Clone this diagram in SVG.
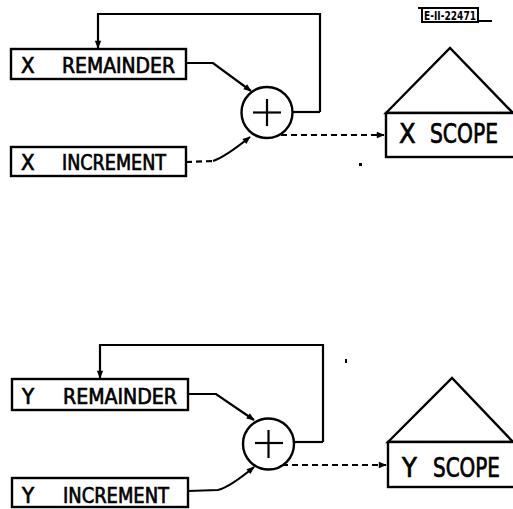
<svg xmlns="http://www.w3.org/2000/svg" width="513" height="509" viewBox="0 0 513 509">
<defs>
<marker id="ah" viewBox="0 0 10 10" refX="9" refY="5" markerWidth="10" markerHeight="8" markerUnits="userSpaceOnUse" orient="auto">
<path d="M0,1 L10,5 L0,9 Z" fill="#000"/>
</marker>
</defs>
<style>
.box{fill:#fff;stroke:#000;stroke-width:2.4}
.ln{fill:none;stroke:#000;stroke-width:2.2}
.dash{fill:none;stroke:#000;stroke-width:2.2;stroke-dasharray:6 4}
.t{font-family:"DejaVu Sans Condensed","Liberation Sans",sans-serif;font-stretch:condensed;fill:#000;stroke:#000;stroke-width:0.7}
.m{font-size:22px}
.s{font-size:27px}
</style>
<rect width="513" height="509" fill="#fff"/>

<g id="tag">
<rect x="422" y="8" width="56" height="14" fill="none" stroke="#000" stroke-width="2"/>
<line x1="418" y1="8" x2="424" y2="8" stroke="#000" stroke-width="2"/>
<line x1="478" y1="21" x2="492" y2="21" stroke="#000" stroke-width="2"/>
<text x="424" y="20" font-family="DejaVu Sans Condensed, sans-serif" font-size="12" font-weight="bold" textLength="52" lengthAdjust="spacingAndGlyphs">E-II-22471</text>
</g>

<g id="connectors">
<!-- X section -->
<polyline class="ln" points="320,112 320,14 98,14 98,48" marker-end="url(#ah)"/>
<line class="ln" x1="320" y1="112" x2="293" y2="112"/>
<polyline class="ln" points="186,63 213,63 251,91" marker-end="url(#ah)"/>
<polyline class="dash" points="186,162 213,161"/>
<path class="ln" d="M213,161 Q225,157 250,137" marker-end="url(#ah)"/>
<line class="dash" x1="281" y1="135" x2="384" y2="135" marker-end="url(#ah)"/>
<!-- Y section -->
<polyline class="ln" points="323,442 323,345 100,345 100,378" marker-end="url(#ah)"/>
<line class="ln" x1="323" y1="442" x2="294" y2="442"/>
<polyline class="ln" points="188,394 216,394 254,420" marker-end="url(#ah)"/>
<path class="ln" d="M188,491 L218,490 Q230,487 254,467" marker-end="url(#ah)"/>
<line class="dash" x1="282" y1="465" x2="386" y2="465" marker-end="url(#ah)"/>
</g>

<g id="x-remainder">
<rect class="box" x="11" y="49" width="175" height="30"/>
<text class="t m" x="21" y="73">X</text>
<text class="t m" x="62" y="73" textLength="113" lengthAdjust="spacingAndGlyphs">REMAINDER</text>
</g>
<g id="x-increment">
<rect class="box" x="11" y="147" width="175" height="29"/>
<text class="t m" x="21" y="170">X</text>
<text class="t m" x="62" y="170" textLength="104" lengthAdjust="spacingAndGlyphs">INCREMENT</text>
</g>
<g id="x-adder">
<circle cx="267" cy="112.5" r="25.5" fill="#fff" stroke="#000" stroke-width="2.4"/>
<line class="ln" x1="253" y1="112.5" x2="281" y2="112.5"/>
<line class="ln" x1="267" y1="99" x2="267" y2="126"/>
</g>
<g id="x-scope">
<polygon points="386,113 450,48 513,113" fill="#fff" stroke="#000" stroke-width="2.4"/>
<rect class="box" x="386" y="113" width="130" height="44"/>
<text class="t s" x="399" y="143">X</text>
<text class="t s" x="430" y="143" textLength="68" lengthAdjust="spacingAndGlyphs">SCOPE</text>
</g>

<g id="y-remainder">
<rect class="box" x="12" y="379" width="176" height="31"/>
<text class="t m" x="22" y="404">Y</text>
<text class="t m" x="63" y="404" textLength="114" lengthAdjust="spacingAndGlyphs">REMAINDER</text>
</g>
<g id="y-increment">
<rect class="box" x="12" y="478" width="176" height="29"/>
<text class="t m" x="22" y="503">Y</text>
<text class="t m" x="63" y="503" textLength="106" lengthAdjust="spacingAndGlyphs">INCREMENT</text>
</g>
<g id="y-adder">
<circle cx="268.5" cy="444" r="25.5" fill="#fff" stroke="#000" stroke-width="2.4"/>
<line class="ln" x1="255" y1="443" x2="283" y2="443"/>
<line class="ln" x1="268.5" y1="430" x2="268.5" y2="458"/>
</g>
<g id="y-scope">
<polygon points="388,442 452,378 513,442" fill="#fff" stroke="#000" stroke-width="2.4"/>
<rect class="box" x="388" y="442" width="130" height="45"/>
<text class="t s" x="402" y="477">Y</text>
<text class="t s" x="433" y="477" textLength="67" lengthAdjust="spacingAndGlyphs">SCOPE</text>
</g>

<g id="specks" fill="#000">
<rect x="359" y="163" width="3" height="3"/>
<rect x="345" y="359" width="2" height="4"/>
</g>
</svg>
